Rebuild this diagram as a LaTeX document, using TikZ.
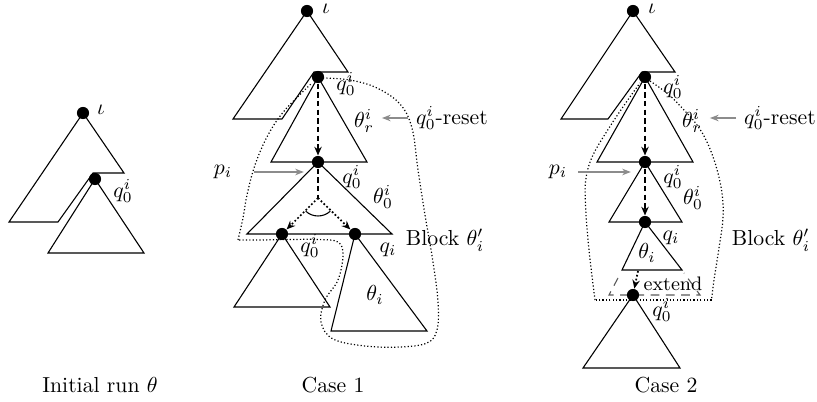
\documentclass[tikz,border=0pt]{standalone}
\usetikzlibrary{arrows.meta}
\definecolor{Arrow}{HTML}{8C8C8C}
\definecolor{Extend}{HTML}{5A5A5A}

\tikzset{
    statedot/.style={circle, fill=black, inner sep=0pt, minimum size=5.6pt},
    lbl/.style={inner sep=1pt},
    tree/.style={line width=0.5pt, line join=miter},
    runline/.style={thick, dash pattern=on 2.5pt off 1.5pt},
    runarrow/.style={runline, -{Stealth[length=4pt, width=3.4pt]}},
    choicearrow/.style={thick, densely dotted, -{Stealth[length=4pt, width=3.4pt]}},
    blockline/.style={line width=0.55pt, densely dotted},
    greyarrow/.style={Arrow, line width=0.6pt, -{Stealth[length=4pt, width=3pt]}},
    extendline/.style={Extend, line width=0.5pt, dash pattern=on 4pt off 3pt},
}

\begin{document}
\begin{tikzpicture}[x=0.46pt, y=-0.46pt]

    \useasboundingbox (0,0) rectangle (817,402);

    % Initial run
    \draw[tree] (83,113) -- (9,222) -- (58,222) -- (93,173) -- (124,173) -- cycle;
    \draw[tree] (95,179) -- (48,253) -- (144,253) -- cycle;
    \node[statedot] (i-root) at (83,113) {};
    \node[statedot] (i-q0) at (95,179) {};
    \node[lbl] (i-iota) at (101,110) {$\iota$};
    \node[lbl] (i-lq0) at (123,191) {$q_0^i$};
    \node[lbl] (i-caption) at (100,385) {Initial run $\theta$};

    % Case 1
    \draw[blockline] plot[smooth, tension=0.6] coordinates {
        (323,78) (350,80) (377,88) (400,104) (412,128) (418,170) (425,215)
        (433,262) (438,302) (437,330) (427,343) (400,347) (365,346) (333,339)
        (321,322) (325,300) (338,280) (343,255) (338,242) (318,239.5) (290,239.5)
        (260,240) (238,240)};
    \draw[blockline] plot[smooth, tension=0.6] coordinates {
        (238,240) (243,218) (247,195) (255,165) (268,135) (285,110) (312,83)};

    \draw[tree] (307,11) -- (233,119) -- (282,119) -- (314,72) -- (348,72) -- cycle;
    \draw[tree] (318,77) -- (271,162) -- (367,162) -- cycle;
    \draw[tree] (318,162) -- (247,234) -- (392,234) -- cycle;
    \draw[tree] (282,234) -- (234,307) -- (330,307) -- cycle;
    \draw[tree] (355,234) -- (331,331) -- (427,331) -- cycle;

    \node[statedot] (c1-root) at (307,11) {};
    \node[statedot] (c1-q0) at (318,77) {};
    \node[statedot] (c1-p) at (318,162) {};
    \node[statedot] (c1-l) at (282,234) {};
    \node[statedot] (c1-r) at (355,234) {};
    \coordinate (c1-split) at (318,198);

    \draw[runarrow] (c1-q0) -- (c1-p);
    \draw[runline] (c1-p) -- (c1-split);
    \draw[choicearrow] (c1-split) -- (c1-l);
    \draw[choicearrow] (c1-split) -- (c1-r);
    \draw[line width=0.5pt] (c1-split) ++(133:18) arc[start angle=133, end angle=47, radius=18];

    \node[lbl] (c1-iota) at (326,9) {$\iota$};
    \node[lbl] (c1-lq0) at (346,84) {$q_0^i$};
    \node[lbl] (c1-thr) at (364,121) {$\theta_r^i$};
    \node[lbl] (c1-reset) at (452,118) {$q_0^i$-reset};
    \node[lbl] (c1-lp) at (352,177) {$q_0^i$};
    \node[lbl] (c1-th0) at (383,197) {$\theta_0^i$};
    \node[lbl] (c1-ll) at (310,246) {$q_0^i$};
    \node[lbl] (c1-lr) at (388,250) {$q_i$};
    \node[lbl] (c1-thi) at (375,295) {$\theta_i$};
    \node[lbl] (c1-pi) at (223,172) {$p_i$};
    \node[lbl] (c1-block) at (445,240) {Block $\theta'_i$};
    \node[lbl] (c1-caption) at (333,385) {Case 1};

    \draw[greyarrow, shorten <=2.5pt, shorten >=2.5pt] (c1-reset.west) -- (c1-reset.west -| c1-thr.east);
    \draw[greyarrow, shorten <=9pt, shorten >=3.5pt] (c1-pi.east) -- (c1-pi.east -| c1-p.west);

    % Case 2
    \draw[blockline] plot[smooth, tension=0.6] coordinates {
        (650,81) (668,94) (684,110) (697,125) (707,142) (716,166) (722,193)
        (723,218) (719,248) (714,280) (711.5,300)};
    \draw[blockline] (711.5,300) -- (595,300);
    \draw[blockline] plot[smooth, tension=0.6] coordinates {
        (595,300) (589,250) (585.5,205) (586,178) (593,155) (609,128) (625,104) (640,83)};

    \draw[tree] (633,11) -- (561,119) -- (608,119) -- (642,72) -- (675,72) -- cycle;
    \draw[tree] (645,77) -- (597,162) -- (693,162) -- cycle;
    \draw[tree] (645,162) -- (609,222) -- (682,222) -- cycle;
    \draw[tree] (645,222) -- (622,270) -- (682,270) -- cycle;
    \draw[tree] (633,295) -- (583,368) -- (680,368) -- cycle;
    \draw[extendline] (618,278) -- (609,295) -- (700,295) -- (684,273);

    \node[statedot] (c2-root) at (633,11) {};
    \node[statedot] (c2-q0) at (645,77) {};
    \node[statedot] (c2-p) at (645,162) {};
    \node[statedot] (c2-qi) at (645,222) {};
    \node[statedot] (c2-new) at (633,295) {};
    \coordinate (c2-leaf) at (638,271);

    \draw[runarrow] (c2-q0) -- (c2-p);
    \draw[runarrow] (c2-p) -- (c2-qi);
    \draw[choicearrow] (c2-leaf) -- (c2-new);

    \node[lbl] (c2-iota) at (652,9) {$\iota$};
    \node[lbl] (c2-lq0) at (673,87) {$q_0^i$};
    \node[lbl] (c2-thr) at (692,121) {$\theta_r^i$};
    \node[lbl] (c2-reset) at (780,118) {$q_0^i$-reset};
    \node[lbl] (c2-lp) at (673,177) {$q_0^i$};
    \node[lbl] (c2-th0) at (693,198) {$\theta_0^i$};
    \node[lbl] (c2-lqi) at (671,238) {$q_i$};
    \node[lbl] (c2-thi) at (647,253) {$\theta_i$};
    \node[lbl, font=\small] (c2-extend) at (673,284) {extend};
    \node[lbl] (c2-lnew) at (662,310) {$q_0^i$};
    \node[lbl] (c2-pi) at (558,172) {$p_i$};
    \node[lbl] (c2-block) at (771,240) {Block $\theta'_i$};
    \node[lbl] (c2-caption) at (666,385) {Case 2};

    \draw[greyarrow, shorten <=2.5pt, shorten >=2.5pt] (c2-reset.west) -- (c2-reset.west -| c2-thr.east);
    \draw[greyarrow, shorten <=4pt, shorten >=3.5pt] (c2-pi.east) -- (c2-pi.east -| c2-p.west);

\end{tikzpicture}
\end{document}
